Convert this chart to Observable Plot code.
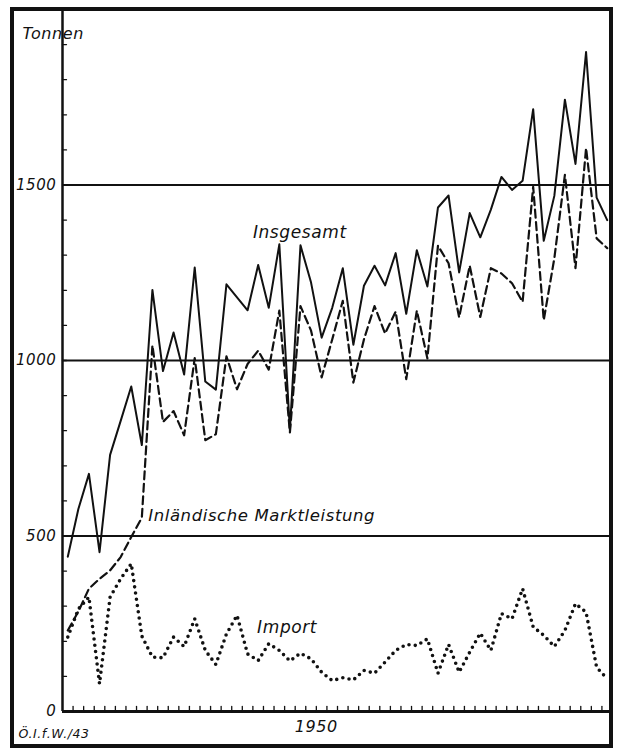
<!DOCTYPE html>
<html><head><meta charset="utf-8">
<script src="https://cdn.jsdelivr.net/npm/d3@7"></script>
<script src="https://cdn.jsdelivr.net/npm/@observablehq/plot@0.6"></script>
<style>
html,body{margin:0;padding:0;background:#fff;}
#wrap{position:relative;width:619px;height:751px;overflow:hidden;background:#fff;}
#border{position:absolute;left:10px;top:7px;width:603px;height:741px;box-sizing:border-box;border:4px solid #111;pointer-events:none;}
</style></head>
<body><div id="wrap"><div id="chart"></div><div id="border"></div></div>
<script>
// Monthly series, July 1948 – October 1952 (52 months), in Tonnen
const months = d3.utcMonth.range(new Date(Date.UTC(1948, 6, 1)), new Date(Date.UTC(1952, 10, 1)));

const insgesamt = [441, 577, 677, 454, 731, 828, 926, 759, 1201, 970,
  1080, 960, 1265, 940, 917, 1217, 1180, 1143, 1272, 1150,
  1331, 801, 1328, 1222, 1065, 1150, 1263, 1045, 1213, 1270,
  1214, 1306, 1133, 1314, 1211, 1436, 1470, 1251, 1420, 1351,
  1430, 1523, 1486, 1512, 1716, 1341, 1469, 1743, 1560, 1879,
  1464, 1400];

const inlaendisch = [231, 285, 350, 378, 402, 440, 497, 552, 1043, 825,
  856, 787, 1007, 773, 790, 1012, 918, 990, 1028, 974,
  1142, 795, 1155, 1085, 952, 1060, 1170, 937, 1060, 1155,
  1077, 1139, 947, 1142, 1006, 1327, 1277, 1123, 1270, 1124,
  1263, 1248, 1220, 1167, 1495, 1115, 1291, 1529, 1263, 1605,
  1348, 1320];

const importe = [212, 292, 326, 79, 326, 378, 421, 215, 155, 153,
  212, 185, 264, 174, 134, 221, 274, 164, 145, 193,
  174, 144, 166, 150, 112, 88, 96, 90, 117, 109,
  141, 174, 191, 188, 207, 109, 191, 112, 169, 223,
  174, 279, 264, 350, 241, 217, 185, 231, 307, 283,
  126, 93];

const seriesNames = ["Insgesamt", "Inländische Marktleistung", "Import"];
const yLabelTicks = [0, 500, 1000, 1500];
const yGrid = [500, 1000, 1500];
const yMinorTicks = d3.range(100, 2000, 100);
const yearLabels = ["1950"];
const unitLabel = "Tonnen";
const sourceLabel = "Ö.I.f.W./43";

const table = months.map((m, i) => ({i, month: m, insgesamt: insgesamt[i], inland: inlaendisch[i], imp: importe[i]}));
const N = months.length;
const xStart = -0.5;
const boundaries = d3.range(1, N).map(k => k - 0.5);
// year label centred on its twelve months
const yearCenters = yearLabels.map(y => ({label: y, at: months.findIndex(m => m.getUTCFullYear() === +y) + 5.5}));

const tickShape = {draw(ctx, l) { ctx.moveTo(0, 0); ctx.lineTo(0, -l); }};
const ink = "#111";
const font = "DejaVu Sans";

const chart = Plot.plot({
  width: 619, height: 751,
  marginLeft: 62, marginRight: 7, marginTop: 9, marginBottom: 40,
  x: {domain: [xStart, N - 0.5], axis: null},
  y: {domain: [0, 2000], axis: null},
  style: {fontFamily: font, fontStyle: "italic", fontSize: "15px", letterSpacing: "0.6px", background: "white", color: ink},
  marks: [
    Plot.ruleY(yGrid, {stroke: ink, strokeWidth: 2}),
    Plot.ruleX([xStart], {stroke: ink, strokeWidth: 2.5}),
    Plot.ruleY([0], {stroke: ink, strokeWidth: 3.2}),
    Plot.vector(yMinorTicks, {x: xStart, y: d => d, rotate: 90, length: 4, anchor: "start", shape: tickShape, stroke: ink, strokeWidth: 1.3}),
    Plot.vector(boundaries, {x: d => d, y: 0, length: 5, anchor: "start", shape: tickShape, stroke: ink, strokeWidth: 1.3}),
    Plot.text(yLabelTicks, {x: xStart, y: d => d, text: d => String(d), textAnchor: "end", dx: -6, fontSize: 15, fill: ink}),
    Plot.text(yearCenters, {x: "at", y: 0, text: "label", dy: 15, fontSize: 16, fill: ink}),
    Plot.text([unitLabel], {frameAnchor: "top-left", textAnchor: "start", dx: -40, dy: 18, fontSize: 16, fill: ink}),
    Plot.text([sourceLabel], {frameAnchor: "bottom-left", textAnchor: "start", dx: -44, dy: 26, fontSize: 12.5, fill: ink}),
    Plot.line(table, {x: "i", y: "insgesamt", stroke: ink, strokeWidth: 2}),
    Plot.line(table, {x: "i", y: "inland", stroke: ink, strokeWidth: 2.2, strokeDasharray: "8,4.5"}),
    Plot.line(table, {x: "i", y: "imp", stroke: ink, strokeWidth: 3.6, strokeDasharray: "0,6.3", strokeLinecap: "round"}),
    Plot.text([seriesNames[0]], {x: 17.5, y: 1365, text: d => d, textAnchor: "start", fontSize: 17, fill: ink}),
    Plot.text([seriesNames[1]], {x: 7.6, y: 558, text: d => d, textAnchor: "start", fontSize: 16.5, fill: ink}),
    Plot.text([seriesNames[2]], {x: 17.9, y: 239, text: d => d, textAnchor: "start", fontSize: 17, fill: ink})
  ]
});
document.getElementById("chart").appendChild(chart);
</script></body></html>
